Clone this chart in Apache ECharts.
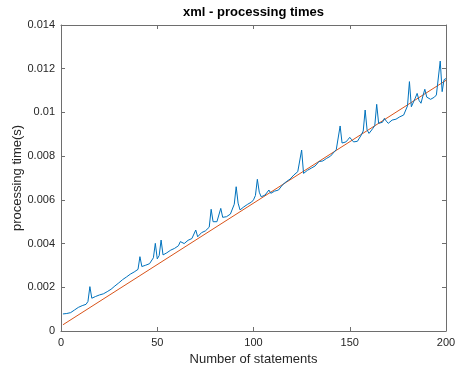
<!DOCTYPE html>
<html>
<head>
<meta charset="utf-8">
<script src="https://cdn.jsdelivr.net/npm/echarts@6/dist/echarts.min.js"></script>
<style>
  html, body { margin: 0; padding: 0; background: #fff; }
  #myChart { width: 458px; height: 368px; }
</style>
</head>
<body>
<div id="myChart"></div>
<script>
// measured times (s) for 1..200 statements
const times = [
  0.00078, 0.00079, 0.00080, 0.00082, 0.00084, 0.00090, 0.00096, 0.00102, 0.00108, 0.00113,
  0.00116, 0.00119, 0.00122, 0.00135, 0.00203, 0.00150, 0.00154, 0.00158, 0.00162, 0.00165,
  0.00168, 0.00170, 0.00174, 0.00180, 0.00186, 0.00191, 0.00198, 0.00206, 0.00213, 0.00220,
  0.00226, 0.00235, 0.00244, 0.00247, 0.00254, 0.00260, 0.00264, 0.00270, 0.00276, 0.00282,
  0.00340, 0.00295, 0.00302, 0.00301, 0.00303, 0.00308, 0.00317, 0.00335, 0.00401, 0.00330,
  0.00345, 0.00416, 0.00348, 0.00350, 0.00358, 0.00363, 0.00370, 0.00365, 0.00378, 0.00384,
  0.00390, 0.00409, 0.00402, 0.00400, 0.00405, 0.00415, 0.00420, 0.00423, 0.00430, 0.00462,
  0.00431, 0.00440, 0.00450, 0.00454, 0.00458, 0.00462, 0.00475, 0.00557, 0.00500, 0.00493,
  0.00500, 0.00498, 0.00561, 0.00520, 0.00516, 0.00523, 0.00531, 0.00535, 0.00540, 0.00580,
  0.00660, 0.00585, 0.00554, 0.00560, 0.00568, 0.00576, 0.00580, 0.00585, 0.00590, 0.00600,
  0.00620, 0.00694, 0.00635, 0.00614, 0.00620, 0.00622, 0.00630, 0.00645, 0.00630, 0.00635,
  0.00640, 0.00643, 0.00645, 0.00653, 0.00668, 0.00675, 0.00683, 0.00688, 0.00695, 0.00700,
  0.00714, 0.00710, 0.00729, 0.00735, 0.00828, 0.00721, 0.00729, 0.00735, 0.00737, 0.00745,
  0.00752, 0.00755, 0.00760, 0.00775, 0.00770, 0.00778, 0.00783, 0.00790, 0.00795, 0.00800,
  0.00808, 0.00820, 0.00830, 0.00836, 0.00938, 0.00860, 0.00851, 0.00865, 0.00875, 0.00886,
  0.00875, 0.00865, 0.00860, 0.00868, 0.00875, 0.00897, 0.00915, 0.01011, 0.00920, 0.00904,
  0.00915, 0.00927, 0.00940, 0.01037, 0.00950, 0.00942, 0.00955, 0.00973, 0.00960, 0.00950,
  0.00958, 0.00965, 0.00965, 0.00969, 0.00975, 0.00980, 0.00980, 0.00988, 0.00996, 0.01030,
  0.01141, 0.01026, 0.01034, 0.01065, 0.01087, 0.01055, 0.01042, 0.01075, 0.01106, 0.01070,
  0.01065, 0.01060, 0.01057, 0.01070, 0.01080, 0.01088, 0.01235, 0.01095, 0.01150, 0.01155
]
// linear fit end points
const fitX = [1, 200]
const fitY = [0.000285, 0.011469]

const xTicks = { min: 0, max: 200, interval: 50 }
const yTicks = { min: 0, max: 0.014, interval: 0.002 }

const statements = times.map((t, i) => i + 1)
const measured = times.map((t, i) => [statements[i], t])
const fitted = fitX.map((x, i) => [x, fitY[i]])

const axisColor = '#6e6e6e'
const textColor = '#262626'
const font = 'Liberation Sans, Arial, sans-serif'

const tickStyle = { show: true, inside: true, length: 4, lineStyle: { color: axisColor } }
const lineStyle = { show: true, onZero: false, lineStyle: { color: axisColor, width: 1 } }

const myChart = echarts.init(document.getElementById('myChart'), null, { renderer: 'canvas' })
myChart.setOption({
  animation: false,
  backgroundColor: '#fff',
  grid: { left: 61, top: 25, width: 385, height: 306, containLabel: false, outerBoundsMode: 'none' },
  graphic: [{
    type: 'text',
    x: 253.5,
    y: 12,
    style: {
      text: 'xml - processing times',
      textAlign: 'center',
      textVerticalAlign: 'middle',
      font: 'bold 13px ' + font,
      fill: '#000'
    }
  }],
  xAxis: [{
    type: 'value',
    ...xTicks,
    position: 'bottom',
    name: 'Number of statements',
    nameLocation: 'middle',
    nameGap: 22,
    nameMoveOverlap: false,
    nameTextStyle: { color: textColor, fontSize: 13, fontFamily: font },
    axisLine: lineStyle,
    axisTick: tickStyle,
    axisLabel: { color: textColor, fontSize: 11, fontFamily: font, margin: 6 },
    splitLine: { show: false }
  }, {
    type: 'value',
    ...xTicks,
    position: 'top',
    axisLine: lineStyle,
    axisTick: tickStyle,
    axisLabel: { show: false },
    splitLine: { show: false }
  }],
  yAxis: [{
    type: 'value',
    ...yTicks,
    position: 'left',
    name: 'processing time(s)',
    nameLocation: 'middle',
    nameGap: 37,
    nameMoveOverlap: false,
    nameTextStyle: { color: textColor, fontSize: 13, fontFamily: font },
    axisLine: lineStyle,
    axisTick: tickStyle,
    axisLabel: {
      color: textColor, fontSize: 11, fontFamily: font, margin: 6,
      formatter: v => String(+v.toFixed(3))
    },
    splitLine: { show: false }
  }, {
    type: 'value',
    ...yTicks,
    position: 'right',
    axisLine: lineStyle,
    axisTick: tickStyle,
    axisLabel: { show: false },
    splitLine: { show: false }
  }],
  series: [{
    type: 'line',
    data: measured,
    showSymbol: false,
    lineStyle: { color: '#0072BD', width: 1 },
    z: 3
  }, {
    type: 'line',
    data: fitted,
    showSymbol: false,
    lineStyle: { color: '#D95319', width: 1 },
    z: 2
  }]
})
window.addEventListener('resize', () => {
  myChart.resize()
})
</script>
</body>
</html>
